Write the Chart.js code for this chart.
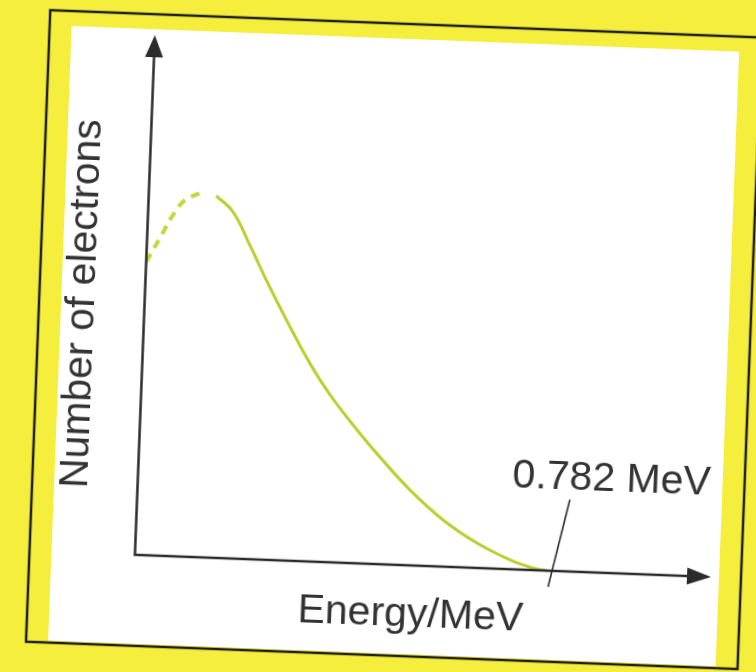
<!DOCTYPE html>
<html>
<head>
<meta charset="utf-8">
<script src="https://cdn.jsdelivr.net/npm/chart.js@4/dist/chart.umd.min.js"></script>
<style>
  html, body { margin: 0; padding: 0; overflow: hidden; background: #f5ee3c; }
  #wrap { width: 756px; height: 672px; transform: rotate(2.2deg); transform-origin: 378px 336px; }
</style>
</head>
<body>
<div id="wrap"><canvas id="betaChart" width="756" height="672"></canvas></div>
<script>
// beta spectrum (energy in MeV, electron count in arbitrary units)
const dashedEnergy = [0, 0.0245, 0.042, 0.0635, 0.097, 0.106];
const dashedCount = [56.4, 61.1, 64.6, 68.0, 70.0, 70.4];
const solidEnergy = [0.128, 0.161, 0.1956, 0.2303, 0.2713, 0.318, 0.358, 0.4173, 0.457, 0.5164, 0.581, 0.647, 0.711, 0.755, 0.782];
const solidCount = [69.6, 66.6, 60.3, 53.5, 46.0, 38.0, 32.2, 25.0, 20.6, 14.5, 9.0, 4.8, 1.8, 0.4, 0];
// leader line to the end-point label
const leaderEnergy = [0.82, 0.785];
const leaderCount = [13.8, -3.1];
const endLabel = "0.782 MeV";
const xTitle = "Energy/MeV";
const yTitle = "Number of electrons";

const toPoints = (xs, ys) => xs.map((x, i) => ({ x: x, y: ys[i] }));

const YELLOW = "#f5ee3c";
const CURVE = "#b9cf2e";
const INK = "#2b2b2b";
const FONT = "41px 'Liberation Sans', Arial, sans-serif";

// background, white sheet and hand-drawn frame
const paperPlugin = {
  id: "paper",
  beforeDraw(chart) {
    const ctx = chart.ctx;
    ctx.save();
    ctx.fillStyle = YELLOW;
    ctx.fillRect(0, 0, chart.width, chart.height);
    ctx.fillStyle = "#ffffff";
    ctx.fillRect(60, 38, 668, 615);
    ctx.strokeStyle = "#1e1e1e";
    ctx.lineWidth = 2.5;
    ctx.strokeRect(38, 23, 712, 632);
    ctx.restore();
  },
};

// arrowed axes and texts
const axesPlugin = {
  id: "arrowAxes",
  afterDatasetsDraw(chart) {
    const ctx = chart.ctx;
    const a = chart.chartArea;
    const x0 = chart.scales.x.getPixelForValue(0);
    const y0 = chart.scales.y.getPixelForValue(0);
    ctx.save();
    ctx.strokeStyle = INK;
    ctx.fillStyle = INK;
    ctx.lineWidth = 2.5;
    ctx.beginPath();
    ctx.moveTo(x0, a.top + 10);
    ctx.lineTo(x0, y0);
    ctx.lineTo(a.right - 10, y0);
    ctx.stroke();
    // y arrow head
    ctx.beginPath();
    ctx.moveTo(x0, a.top);
    ctx.lineTo(x0 - 9, a.top + 22);
    ctx.lineTo(x0 + 9, a.top + 22);
    ctx.closePath();
    ctx.fill();
    // x arrow head
    ctx.beginPath();
    ctx.moveTo(a.right, y0);
    ctx.lineTo(a.right - 24, y0 - 8.5);
    ctx.lineTo(a.right - 24, y0 + 8.5);
    ctx.closePath();
    ctx.fill();

    ctx.font = FONT;
    ctx.fillStyle = "#333333";
    ctx.textAlign = "center";
    ctx.textBaseline = "middle";
    ctx.fillText(xTitle, 421, 614);
    ctx.fillText(endLabel, 617, 471);
    ctx.translate(82, 315);
    ctx.rotate(-Math.PI / 2);
    ctx.fillText(yTitle, 0, 0);
    ctx.restore();
  },
};

const betaChart = new Chart(document.getElementById("betaChart"), {
  type: "line",
  data: {
    datasets: [
      {
        label: "low energy (dashed)",
        data: toPoints(dashedEnergy, dashedCount),
        borderColor: "#c4d63e",
        borderWidth: 4,
        borderDash: [9, 7],
        pointRadius: 0,
        cubicInterpolationMode: "monotone",
        fill: false,
      },
      {
        label: "spectrum",
        data: toPoints(solidEnergy, solidCount),
        borderColor: CURVE,
        borderWidth: 3,
        pointRadius: 0,
        tension: 0.4,
        fill: false,
      },
      {
        label: "leader",
        data: toPoints(leaderEnergy, leaderCount),
        borderColor: INK,
        borderWidth: 1.6,
        pointRadius: 0,
        tension: 0,
        clip: false,
        fill: false,
      },
    ],
  },
  options: {
    responsive: false,
    animation: false,
    layout: { padding: { left: 143.5, top: 44, right: 36, bottom: 108 } },
    plugins: { legend: { display: false }, tooltip: { enabled: false } },
    scales: {
      x: { type: "linear", min: 0, max: 1.093, display: false },
      y: { type: "linear", min: 0, max: 100, display: false },
    },
  },
  plugins: [paperPlugin, axesPlugin],
});
</script>
</body>
</html>
